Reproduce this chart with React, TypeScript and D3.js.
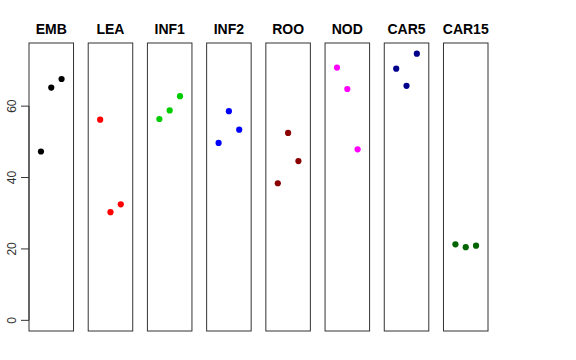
import * as d3 from "d3";

const groups = ["EMB", "LEA", "INF1", "INF2", "ROO", "NOD", "CAR5", "CAR15"];
const colors = ["#000000", "#FF0000", "#00CD00", "#0000FF", "#8B0000", "#FF00FF", "#00008B", "#006400"];
const values = [
  [47.3, 65.2, 67.6],
  [56.2, 30.3, 32.5],
  [56.4, 58.8, 62.8],
  [49.7, 58.6, 53.4],
  [38.4, 52.5, 44.6],
  [70.8, 64.8, 47.9],
  [70.5, 65.7, 74.7],
  [21.3, 20.5, 20.9],
];
const yTicks = [0, 20, 40, 60];

const W = 576;
const H = 360;
const top = 43;
const bottom = 331;
const yMax = 74.7;

export default function App() {
  const y = d3
    .scaleLinear()
    .domain([-0.04 * yMax, yMax * 1.04])
    .range([bottom, top]);

  const band = d3.scaleBand<string>().domain(groups).range([29, 488]).paddingInner(0.248);

  const font = "'Liberation Sans', Arial, sans-serif";

  return (
    <svg
      width={W}
      height={H}
      style={{ position: "absolute", left: 0, top: 0, background: "#fff" }}
      fontFamily={font}
    >
      {groups.map((g, i) => {
        const x0 = band(g)!;
        const bw = band.bandwidth();
        const x = d3.scaleLinear().domain([-0.16, 4.16]).range([x0, x0 + bw]);
        return (
          <g key={g}>
            <rect
              x={x0}
              y={top}
              width={bw}
              height={bottom - top}
              fill="none"
              stroke="#333"
              strokeWidth={1}
            />
            <text
              x={x0 + bw / 2}
              y={34}
              textAnchor="middle"
              fontWeight="bold"
              fontSize={14}
            >
              {g}
            </text>
            {values[i].map((v, j) => (
              <circle key={j} cx={x(j + 1)} cy={y(v)} r={3.1} fill={colors[i]} />
            ))}
          </g>
        );
      })}
      <g>
        <line
          x1={29}
          x2={29}
          y1={y(yTicks[0])}
          y2={y(yTicks[yTicks.length - 1])}
          stroke="#333"
        />
        {yTicks.map((t) => (
          <g key={t}>
            <line x1={21} x2={29} y1={y(t)} y2={y(t)} stroke="#333" />
            <text
              transform={`translate(16,${y(t)}) rotate(-90)`}
              textAnchor="middle"
              fontSize={12}
              fill="#333"
            >
              {t}
            </text>
          </g>
        ))}
      </g>
    </svg>
  );
}
